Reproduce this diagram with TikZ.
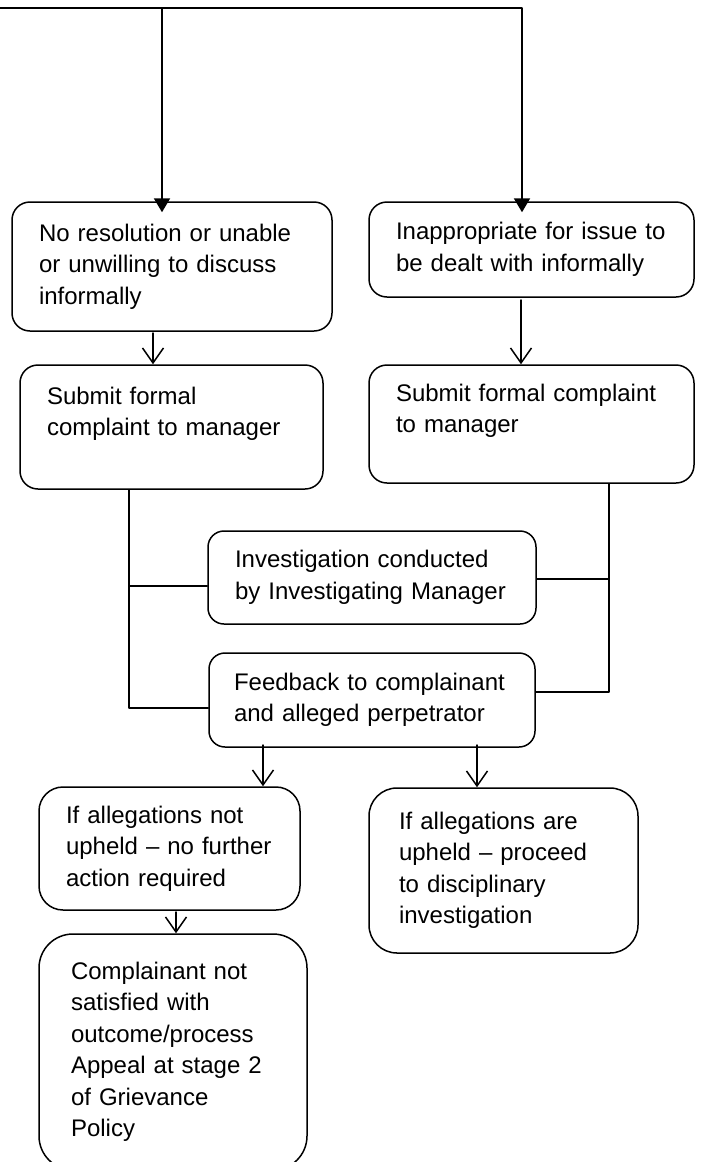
\documentclass[tikz,border=0pt]{standalone}
\usepackage{fontspec}
\setmainfont{Liberation Sans}
\usetikzlibrary{arrows.meta}

\begin{document}
\begin{tikzpicture}[x=1pt, y=-1pt, line cap=round, line join=round,
  box/.style={draw, line width=1.5pt, rounded corners=18pt, align=left,
    inner xsep=27pt, inner ysep=0pt, font=\fontsize{24}{31.5}\selectfont},
  conn/.style={line width=1.5pt},
  arr/.style={conn, -{Straight Barb[length=15pt, width=21pt]}},
  toparr/.style={line width=2pt, -{Triangle[length=14pt, width=16pt]}}]

% Page frame (pixel grid of the reference)
\useasboundingbox (0,0) rectangle (701,1162);
\clip (0,0) rectangle (701,1162);
\fill[white] (0,0) rectangle (701,1162);

% --- Two entry routes ---
\node[box, text width=266pt, minimum height=129pt] (noresol) at (172,266.5)
  {No resolution or unable\\or unwilling to discuss\\informally};
\node[box, text width=271pt, minimum height=95pt] (inapprop) at (531.5,249.5)
  {Inappropriate for issue to\\be dealt with informally};

% Formal complaints
\node[box, text width=249pt, minimum height=124pt] (submitl) at (171.5,427)
  {Submit formal\\complaint to manager\\\mbox{}};
\node[box, text width=271pt, minimum height=118pt] (submitr) at (531.5,424)
  {Submit formal complaint\\to manager\\\mbox{}};

% Investigation and feedback
\node[box, rounded corners=16pt, text width=274pt, minimum height=93pt] (investig) at (372,577.5)
  {Investigation conducted\\by Investigating Manager};
\node[box, rounded corners=16pt, inner xsep=25pt, text width=276pt, minimum height=94pt] (feedback) at (372,700)
  {Feedback to complainant\\and alleged perpetrator};

% --- Outcomes ---
\node[box, rounded corners=24pt, text width=207pt, minimum height=123pt] (notupheld) at (169.5,848.5)
  {If allegations not\\upheld -- no further\\action required};
\node[box, rounded corners=28pt, inner xsep=30pt, text width=209pt, minimum height=165pt] (upheld) at (503.5,870.5)
  {If allegations are\\upheld -- proceed\\to disciplinary\\investigation};
\node[box, rounded corners=34pt, inner xsep=32pt, text width=204pt, minimum height=236pt] (appeal) at (173,1052)
  {Complainant not\\satisfied with\\outcome/process\\Appeal at stage 2\\of Grievance\\Policy};

% Top bus with the two filled arrows
\coordinate (topl) at (0,8);
\coordinate (topm) at (162,8);
\coordinate (topr) at (522,8);
\draw[toparr, shorten >=-11pt] (topl) -- (topr) -- (topr |- inapprop.north);
\draw[toparr, shorten >=-11pt] (topm) -- (topm |- noresol.north);

% Open arrows between boxes
\coordinate (a1) at (153,333);
\draw[arr] (a1) -- (a1 |- submitl.north);
\coordinate (a2) at (521,300);
\draw[arr] (a2) -- (a2 |- submitr.north);
\coordinate (a3) at (263,745);
\draw[arr] (a3) -- (a3 |- notupheld.north);
\coordinate (a4) at (477,745);
\draw[arr] (a4) -- (a4 |- upheld.north);
\coordinate (a5) at (176,912);
\draw[arr] (a5) -- (a5 |- appeal.north);

% Side brackets into investigation and feedback
\coordinate (lbus) at (129,708);
\coordinate (ljoin) at (129,586);
\draw[conn] (lbus |- submitl.south) -- (lbus) -- (lbus -| feedback.west);
\draw[conn] (ljoin) -- (ljoin -| investig.west);
\coordinate (rbus) at (609,692);
\coordinate (rjoin) at (609,579);
\draw[conn] (rbus |- submitr.south) -- (rbus) -- (rbus -| feedback.east);
\draw[conn] (rjoin) -- (rjoin -| investig.east);

\end{tikzpicture}
\end{document}
